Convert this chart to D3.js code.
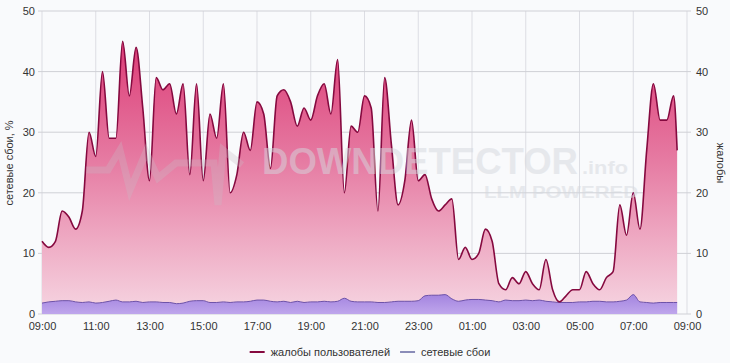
<!DOCTYPE html>
<html><head><meta charset="utf-8">
<script src="https://cdn.jsdelivr.net/npm/d3@7"></script>
<style>
html,body{margin:0;padding:0;background:#f9fafc;}
svg{display:block;font-family:"Liberation Sans",Arial,sans-serif;}
</style></head>
<body><svg id="c" width="730" height="363"></svg>
<script>
const times = ["09:00","09:15","09:30","09:45","10:00","10:15","10:30","10:45","11:00","11:15","11:30","11:45",
"12:00","12:15","12:30","12:45","13:00","13:15","13:30","13:45","14:00","14:15","14:30","14:45",
"15:00","15:15","15:30","15:45","16:00","16:15","16:30","16:45","17:00","17:15","17:30","17:45",
"18:00","18:15","18:30","18:45","19:00","19:15","19:30","19:45","20:00","20:15","20:30","20:45",
"21:00","21:15","21:30","21:45","22:00","22:15","22:30","22:45","23:00","23:15","23:30","23:45",
"00:00","00:15","00:30","00:45","01:00","01:15","01:30","01:45","02:00","02:15","02:30","02:45",
"03:00","03:15","03:30","03:45","04:00","04:15","04:30","04:45","05:00","05:15","05:30","05:45",
"06:00","06:15","06:30","06:45","07:00","07:15","07:30","07:45","08:00","08:15","08:30","08:38"];
const complaints = [12,11,12,17,16,14,17,30,26,40,29,29,
45,36,44,34,22,39,37,38,33,38,23,38,
22,33,29,38,20,23,30,27,35,33,24,36,
37,35,31,34,32,36,38,33,42,20,31,30,
36,34,17,39,28,18,22,32,22,23,19,17,
18,19,9,11,9,10,14,12,5,4,6,5,
7,5,4,9,4,2,3,4,4,7,5,4,
6,7,18,13,20,14,27,38,32,32,36,27];
const outages = [1.8,2.0,2.1,2.2,2.2,2.0,1.9,2.0,1.8,1.9,2.1,2.3,
2.0,2.0,2.1,1.9,2.0,2.0,1.9,1.9,1.7,1.8,2.1,2.2,
2.2,1.9,1.9,2.0,1.9,2.0,2.0,2.1,2.3,2.3,2.1,2.0,
2.1,1.9,2.1,1.9,2.0,2.0,2.1,2.0,2.1,2.6,2.1,2.0,
2.0,2.0,1.9,1.9,2.0,2.1,2.1,2.1,2.2,3.0,3.1,3.1,
3.2,2.5,2.1,2.3,2.4,2.4,2.3,2.2,2.0,2.3,2.2,2.2,
2.3,2.2,2.3,2.1,2.0,1.9,1.9,1.9,2.0,2.0,2.1,2.1,
2.0,2.0,2.1,2.3,3.2,2.0,1.9,1.8,1.9,1.9,1.9,1.9];
const xTickLabels = ["09:00","11:00","13:00","15:00","17:00","19:00","21:00","23:00","01:00","03:00","05:00","07:00","09:00"];
const yTicks = [0,10,20,30,40,50];
const seriesNames = ["жалобы пользователей","сетевые сбои"];
const leftTitle = "сетевые сбои, %";
const rightTitle = "жалобы";

const svg = d3.select("#c");
const L = 42, R = 687, T = 11, B = 314;

function toMin(s, i){ const [h,m] = s.split(":").map(Number); let v = (h*60+m) - 540; if (v < 0 || (i>0 && v===0)) v += 1440; return v; }
const xs = times.map((t,i)=>toMin(t,i));
const x = d3.scaleLinear().domain([0,1440]).range([L,R]);
const y = d3.scaleLinear().domain([0,50]).range([B,T]);

const defs = svg.append("defs");
const g1 = defs.append("linearGradient").attr("id","pg").attr("gradientUnits","userSpaceOnUse")
  .attr("x1",0).attr("x2",0).attr("y1",y(50)).attr("y2",y(0));
g1.append("stop").attr("offset","0%").attr("stop-color","#da2d6c");
g1.append("stop").attr("offset","50%").attr("stop-color","#e67ca3");
g1.append("stop").attr("offset","100%").attr("stop-color","#f6d6e2");
const g2 = defs.append("linearGradient").attr("id","vg").attr("gradientUnits","userSpaceOnUse")
  .attr("x1",0).attr("x2",0).attr("y1",y(3.5)).attr("y2",y(0));
g2.append("stop").attr("offset","0%").attr("stop-color","#a181de");
g2.append("stop").attr("offset","100%").attr("stop-color","#bfa6ec");

// grid
const grid = svg.append("g");
grid.selectAll("line.v").data(xTickLabels).join("line")
  .attr("x1",(d,i)=>x(i*120)).attr("x2",(d,i)=>x(i*120)).attr("y1",T).attr("y2",B)
  .attr("stroke","#dcdde3").attr("stroke-width",1);
grid.selectAll("line.h").data(yTicks).join("line")
  .attr("x1",L-4).attr("x2",R+4).attr("y1",d=>y(d)).attr("y2",d=>y(d))
  .attr("stroke","#cfd0d6").attr("stroke-width",1);

const pts = xs.map((v,i)=>({x:v, a:complaints[i], b:outages[i]}));
const areaA = d3.area().x(d=>x(d.x)).y0(y(0)).y1(d=>y(d.a)).curve(d3.curveMonotoneX);
const lineA = d3.line().x(d=>x(d.x)).y(d=>y(d.a)).curve(d3.curveMonotoneX);
const areaB = d3.area().x(d=>x(d.x)).y0(y(0)).y1(d=>y(d.b)).curve(d3.curveMonotoneX);
const lineB = d3.line().x(d=>x(d.x)).y(d=>y(d.b)).curve(d3.curveMonotoneX);

svg.append("path").datum(pts).attr("d",areaA).attr("fill","url(#pg)");
svg.append("path").datum(pts).attr("d",areaB).attr("fill","url(#vg)");
svg.append("path").datum(pts).attr("d",lineB).attr("fill","none").attr("stroke","#6d52a8").attr("stroke-width",1);
svg.append("path").datum(pts).attr("d",lineA).attr("fill","none").attr("stroke","#85093f").attr("stroke-width",1.6);

// watermark
const wm = svg.append("g").attr("opacity",0.5).attr("pointer-events","none");
wm.append("polyline").attr("points","86,170 108,170 120,150 130,190 146,152 158,178 176,163 214,163 218,205 223,150 242,165")
  .attr("fill","none").attr("stroke","#c9bcc6").attr("stroke-width",7).attr("stroke-linejoin","miter").attr("opacity",0.6);
wm.append("text").attr("x",262).attr("y",174).attr("font-size",36).attr("font-weight","bold")
  .attr("fill","#d5d8de").attr("textLength",316).attr("lengthAdjust","spacingAndGlyphs").text("DOWNDETECTOR");
wm.append("text").attr("x",582).attr("y",174).attr("font-size",19).attr("font-weight","bold")
  .attr("fill","#d5d8de").attr("textLength",46).attr("lengthAdjust","spacingAndGlyphs").text(".info");
wm.append("text").attr("x",484).attr("y",198).attr("font-size",16).attr("font-weight","bold")
  .attr("fill","#d5d8de").attr("textLength",154).attr("lengthAdjust","spacingAndGlyphs").text("LLM POWERED");

// axes
const ax = svg.append("g").attr("transform",`translate(0,${B})`)
  .call(d3.axisBottom(x).tickValues(xTickLabels.map((d,i)=>i*120)).tickFormat((d,i)=>xTickLabels[i]).tickSize(0).tickPadding(8));
ax.select(".domain").remove();
const ayl = svg.append("g").attr("transform",`translate(${L-4},0)`)
  .call(d3.axisLeft(y).tickValues(yTicks).tickSize(0).tickPadding(3));
ayl.select(".domain").remove();
const ayr = svg.append("g").attr("transform",`translate(${R+4},0)`)
  .call(d3.axisRight(y).tickValues(yTicks).tickSize(0).tickPadding(5));
ayr.select(".domain").remove();
svg.selectAll(".tick text").attr("font-size",11).attr("fill","#333").attr("font-family","'Liberation Sans',Arial,sans-serif");

svg.append("text").attr("transform","translate(13,163) rotate(-90)").attr("text-anchor","middle")
  .attr("font-size",11).attr("fill","#333").text(leftTitle);
svg.append("text").attr("transform","translate(717,163) rotate(90)").attr("text-anchor","middle")
  .attr("font-size",11).attr("fill","#333").text(rightTitle);

// legend
const leg = svg.append("g").attr("transform","translate(0,352)");
const legColors = ["#85093f","#8a8cb8"];
const items = seriesNames.map((n,i)=>{
  const gi = leg.append("g");
  gi.append("line").attr("x1",0).attr("x2",15).attr("y1",0).attr("y2",0)
    .attr("stroke",legColors[i]).attr("stroke-width",2);
  const t = gi.append("text").attr("x",21).attr("y",4).attr("font-size",11).attr("fill","#333").text(n);
  return {g:gi, w:21 + t.node().getComputedTextLength()};
});
const gap = 10;
const total = items.reduce((s,it)=>s+it.w,0) + gap*(items.length-1);
let cx = 370 - total/2;
items.forEach(it=>{ it.g.attr("transform",`translate(${cx},0)`); cx += it.w + gap; });
</script></body></html>
